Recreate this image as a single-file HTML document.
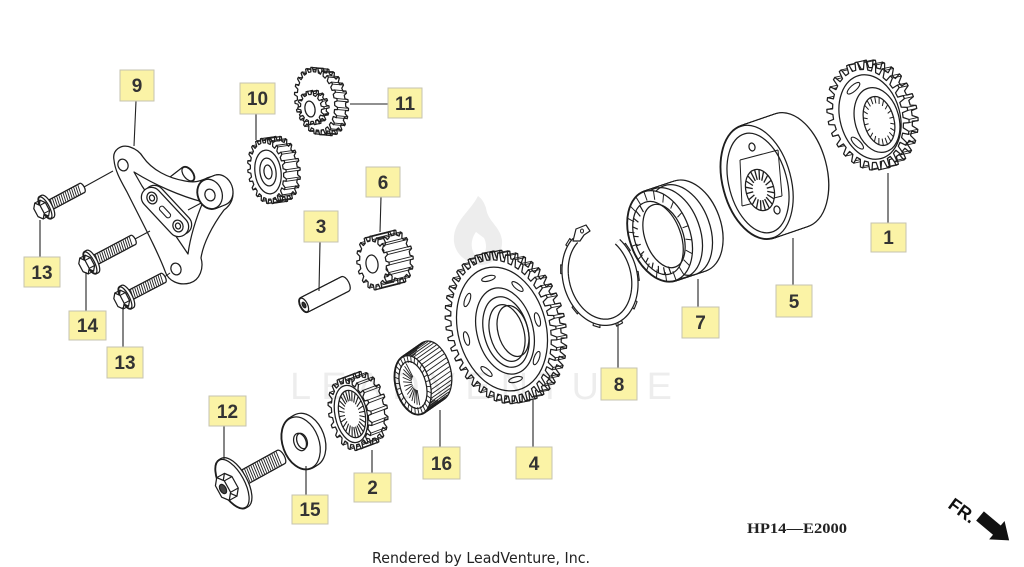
<!DOCTYPE html>
<html><head><meta charset="utf-8"><title>diagram</title>
<style>
html,body{margin:0;padding:0;background:#fff;width:1024px;height:567px;overflow:hidden}
svg{display:block}
.lb rect{fill:#fbf3a6;stroke:#c6c3b0;stroke-width:1}
.lb text{font-family:"Liberation Sans",sans-serif;font-weight:bold;font-size:19px;fill:#333;text-anchor:middle}
.ld line{stroke:#222;stroke-width:1.1}
</style></head><body>
<svg id="svg" width="1024" height="567" viewBox="0 0 1024 567" xmlns="http://www.w3.org/2000/svg">
<rect width="1024" height="567" fill="#fff"/>
<g id="art"></g>
<g id="wm" fill="#000" fill-opacity="0.07">
 <path d="M478,196 C470,212 452,222 454,242 C456,256 468,264 482,265 C494,264 503,254 502,240 C500,226 488,222 486,208 C484,202 482,199 478,196 Z M476,232 C470,240 470,252 478,258 C486,256 488,246 484,238 Z" fill-rule="evenodd"/>
 <text x="290" y="399" font-family="Liberation Sans, sans-serif" font-size="38" textLength="382" lengthAdjust="spacing">LEADVENTURE</text>
</g>
<g class="ld">
 <line x1="136" y1="101" x2="134" y2="146"/>
 <line x1="256" y1="114" x2="256" y2="140"/>
 <line x1="350" y1="104" x2="388" y2="104"/>
 <line x1="381" y1="197" x2="380" y2="232"/>
 <line x1="320" y1="242" x2="319" y2="291"/>
 <line x1="40" y1="257" x2="40" y2="220"/>
 <line x1="86" y1="311" x2="86" y2="272"/>
 <line x1="123" y1="347" x2="123" y2="307"/>
 <line x1="888" y1="223" x2="888" y2="173"/>
 <line x1="793" y1="285" x2="793" y2="238"/>
 <line x1="698" y1="307" x2="698" y2="279"/>
 <line x1="618" y1="368" x2="618" y2="322"/>
 <line x1="224" y1="426" x2="224" y2="459"/>
 <line x1="306" y1="495" x2="306" y2="466"/>
 <line x1="372" y1="473" x2="372" y2="450"/>
 <line x1="440" y1="447" x2="440" y2="410"/>
 <line x1="533" y1="447" x2="533" y2="400"/>
</g>
<g class="lb">
 <rect x="120" y="70" width="34" height="31"/><text x="137" y="92">9</text>
 <rect x="240" y="83" width="35" height="31"/><text x="257.5" y="105">10</text>
 <rect x="388" y="88" width="34" height="30"/><text x="405" y="110">11</text>
 <rect x="366" y="167" width="34" height="30"/><text x="383" y="189">6</text>
 <rect x="304" y="211" width="34" height="31"/><text x="321" y="233">3</text>
 <rect x="24" y="257" width="36" height="30"/><text x="42" y="279">13</text>
 <rect x="69" y="311" width="37" height="29"/><text x="87.5" y="332">14</text>
 <rect x="107" y="347" width="36" height="31"/><text x="125" y="369">13</text>
 <rect x="871" y="223" width="35" height="29"/><text x="888.5" y="244">1</text>
 <rect x="776" y="285" width="36" height="32"/><text x="794" y="308">5</text>
 <rect x="682" y="307" width="37" height="31"/><text x="700.5" y="329">7</text>
 <rect x="601" y="368" width="36" height="32"/><text x="619" y="391">8</text>
 <rect x="209" y="396" width="37" height="30"/><text x="227.5" y="418">12</text>
 <rect x="292" y="495" width="36" height="29"/><text x="310" y="516">15</text>
 <rect x="354" y="473" width="37" height="29"/><text x="372.5" y="494">2</text>
 <rect x="423" y="447" width="37" height="32"/><text x="441.5" y="470">16</text>
 <rect x="516" y="447" width="36" height="32"/><text x="534" y="470">4</text>
</g>
<text x="747" y="533" font-family="Liberation Serif, serif" font-size="15" font-weight="bold" fill="#222" textLength="100" lengthAdjust="spacingAndGlyphs">HP14—E2000</text>
<text x="372" y="563" font-family="DejaVu Sans, sans-serif" font-size="15" fill="#222" textLength="218" lengthAdjust="spacingAndGlyphs">Rendered by LeadVenture, Inc.</text>
<text x="0" y="0" transform="translate(947,507) rotate(36)" font-family="Liberation Sans, sans-serif" font-size="18" font-weight="bold" fill="#111">FR.</text>
<polygon transform="translate(980,516) rotate(40)" points="0,-6 22,-6 22,-12 38,0 22,12 22,6 0,6" fill="#111"/>
</svg>
<script>
(function(){
var NS='http://www.w3.org/2000/svg';
var art=document.getElementById('art');
var K='#1e1e1e';
function E(tag,a,p){var e=document.createElementNS(NS,tag);for(var k in a)e.setAttribute(k,a[k]);(p||art).appendChild(e);return e;}
function T(cx,cy,rx,ry,rot){var r=rot*Math.PI/180,c=Math.cos(r),s=Math.sin(r);return function(x,y){return [cx+x*rx*c-y*ry*s, cy+x*rx*s+y*ry*c];};}
function ell(cx,cy,rx,ry,rot,fill,sw,stroke){return E('ellipse',{cx:cx,cy:cy,rx:rx,ry:ry,transform:'rotate('+rot+' '+cx+' '+cy+')',fill:fill||'none',stroke:stroke===undefined?K:stroke,'stroke-width':sw||1.25});}
function P(pts,close){return 'M'+pts.map(function(p){return p[0].toFixed(2)+','+p[1].toFixed(2);}).join('L')+(close?'Z':'');}
function poly(pts,fill,sw){return E('path',{d:P(pts,true),fill:fill||'#fff',stroke:K,'stroke-width':sw||1.25,'stroke-linejoin':'round'});}
function line(x1,y1,x2,y2,sw){return E('line',{x1:x1,y1:y1,x2:x2,y2:y2,stroke:K,'stroke-width':sw||1});}
function path(d,fill,sw){return E('path',{d:d,fill:fill||'#fff',stroke:K,'stroke-width':sw||1.25,'stroke-linejoin':'round'});}
function gearPts(cx,cy,rx,ry,rot,n,d){var f=T(cx,cy,rx,ry,rot);var prof=[[0,1-d],[0.14,1],[0.40,1],[0.54,1-d]];var pts=[];for(var i=0;i<n;i++){for(var j=0;j<prof.length;j++){var a=2*Math.PI*(i+prof[j][0])/n;var rho=prof[j][1];pts.push(f(rho*Math.cos(a),rho*Math.sin(a)));}}return pts;}
function gear(cx,cy,rx,ry,rot,n,d,dx,dy,sw){var back=gearPts(cx+dx,cy+dy,rx,ry,rot,n,d);poly(back,'#fff',sw);var front=gearPts(cx,cy,rx,ry,rot,n,d);for(var i=0;i<front.length;i++){var m=i%4;if(m==1||m==2)line(front[i][0],front[i][1],back[i][0],back[i][1],0.9);}poly(front,'#fff',sw);}
function hull(x1,y1,x2,y2,rx,ry,rot,sw){sw=sw||1.25;var dist=Math.hypot(x2-x1,y2-y1);var n=Math.max(1,Math.ceil(dist/0.9));var ps=[];for(var i=0;i<=n;i++){ps.push([x1+(x2-x1)*i/n,y1+(y2-y1)*i/n]);}
ps.forEach(function(p){ell(p[0],p[1],rx,ry,rot,'none',sw*2);});
ps.forEach(function(p){ell(p[0],p[1],rx,ry,rot,'#fff',1,'none');});}
function ticks(cx,cy,rx,ry,rot,r1,r2,n,a0,a1,sw){var f=T(cx,cy,rx,ry,rot);for(var i=0;i<n;i++){var a=(a0+(a1-a0)*i/n)*Math.PI/180;var p=f(r1*Math.cos(a),r1*Math.sin(a)),q=f(r2*Math.cos(a),r2*Math.sin(a));line(p[0],p[1],q[0],q[1],sw||0.8);}}
function slots(cx,cy,rx,ry,rot,rho,angles,len,wid){var f=T(cx,cy,rx,ry,rot);angles.forEach(function(deg){var a=deg*Math.PI/180;var p=f(rho*Math.cos(a),rho*Math.sin(a));var p1=f(rho*Math.cos(a+.05),rho*Math.sin(a+.05)),p0=f(rho*Math.cos(a-.05),rho*Math.sin(a-.05));var ang=Math.atan2(p1[1]-p0[1],p1[0]-p0[0])*180/Math.PI;ell(p[0],p[1],len,wid,ang,'#fff',1.1);});}
function arcPts(cx,cy,rx,ry,rot,a0,a1,n){var f=T(cx,cy,rx,ry,rot);var pts=[];for(var i=0;i<=n;i++){var a=(a0+(a1-a0)*i/n)*Math.PI/180;pts.push(f(Math.cos(a),Math.sin(a)));}return pts;}
function bolt(fx,fy,ex,ey,hr,fr,frx,tr){
 var dx=ex-fx,dy=ey-fy,L=Math.hypot(dx,dy),ux=dx/L,uy=dy/L,nx=-uy,ny=ux,phi=Math.atan2(dy,dx)*180/Math.PI;
 var hl=hr*0.9;
 var flx=fx+ux*hl,fly=fy+uy*hl;
 hull(flx,fly,ex,ey,tr*0.4,tr,phi);
 for(var t=4;t<L-hl-1;t+=2.4){var px=flx+ux*t,py=fly+uy*t;line(px+nx*tr-ux*0.8,py+ny*tr-uy*0.8,px-nx*tr+ux*0.8,py-ny*tr+uy*0.8,0.9);}
 hull(flx-ux*1,fly-uy*1,flx+ux*1.5,fly+uy*1.5,frx,fr,phi);
 ell(flx-ux*1,fly-uy*1,frx,fr,phi,'#fff');
 var hb=T(fx+ux*hl*0.75,fy+uy*hl*0.75,hr*0.45,hr,phi), hf=T(fx,fy,hr*0.45,hr,phi);
 var B=[],F=[];for(var i=0;i<6;i++){var a=(i*60+30)*Math.PI/180;B.push(hb(Math.cos(a),Math.sin(a)));F.push(hf(Math.cos(a),Math.sin(a)));}
 poly(B); for(i=0;i<6;i++)line(F[i][0],F[i][1],B[i][0],B[i][1],1.1); poly(F);
 return phi;
}

/* Gear 11 */
gear(316,101,21,34,-10,24,.13,11,1);
gear(311,108,13,17,-10,14,.2,5,-1);
ell(310,109,5,8,-10,'#fff');
/* Gear 10 */
gear(267,171,19,33,-8,22,.14,14,-2);
ell(268,172,13,22,-8,'#fff'); ell(268,172,8,14,-8,'#fff'); ell(268,172,4,7,-8,'#fff');
/* Gear 6 */
gear(373,263,16,27,-8,16,.18,24,-6);
ell(372,264,6,9,-8,'#fff');
/* Pin 3 */
hull(304,305,345,284,3.5,7.5,-27); ell(304,305,3.5,7.5,-27,'#fff'); ell(304,305,1.5,3,-27,'#333');

/* Bracket 9 */
hull(170,188,188,174,4.5,8,-38); ell(188,174,4.5,8,-38,'#fff');
path('M114,160 C112,150 121,144 130,147 C136,149 140,152 143,157 C152,170 168,178 185,181 C195,183 200,181 205,179 C214,174 228,177 232,187 C235,197 231,205 224,210 C212,226 203,244 201,258 C204,268 200,280 190,283 C179,286 168,281 165,271 C157,250 142,222 127,192 C121,181 115,171 114,160 Z');
path('M134,172 C155,185 180,196 203,202 C196,218 190,238 188,254 C176,236 158,210 142,186 Z');
line(135,239,150,231); line(188,210,203,202); line(163,278,170,273); line(84,187,113,171);
hull(210,194,220,190,12,15,-20); ell(210,194,12,15,-20,'#fff'); ell(210,195,5,6,-20,'#fff');
E('rect',{x:-30,y:-10,width:60,height:20,rx:10,transform:'translate(168,210) rotate(47)',fill:'#fff',stroke:K,'stroke-width':1.25});
E('rect',{x:-30,y:-10,width:60,height:20,rx:10,transform:'translate(165,212) rotate(47)',fill:'#fff',stroke:K,'stroke-width':1.25});
ell(152,198,5,6,-20,'#fff'); ell(152,198,2.5,3,-20,'#fff');
ell(178,226,5,6,-20,'#fff'); ell(178,226,2.5,3,-20,'#fff');
E('rect',{x:-7,y:-2.5,width:14,height:5,rx:2.5,transform:'translate(165,212) rotate(47)',fill:'#fff',stroke:K,'stroke-width':1.1});
ell(123,165,5,6,-20,'#fff');
ell(176,269,5,6,-20,'#fff');

/* Bolts 13, 14, 13 */
bolt(39,211,82,188,9,12,4,4.5);
bolt(84,266,133,240,9,12,4,4.5);
bolt(119,301,163,278,9,12,4,4.5);

/* Bolt 12 */
var ph=bolt(223,489,281,457,13,27,12,7);
ell(223,489,3,5,ph,'#444');
/* Washer 15 */
hull(301,443,306,440,18,27,-20); ell(301,443,18,27,-20,'#fff'); ell(300,442,6,9,-20,'#fff'); ell(302,441,5,8,-20);
/* Gear 2 */
gear(350,414,21,37,-12,20,.15,16,-6);
ell(351,414,16,29,-12); ell(352,414,13,24,-12,'#fff'); ticks(352,414,13,24,-12,.55,1,26,0,360,1.1);
/* Needle bearing 16 */
hull(413,385,433,371,17,30,-15);
(function(){var fF=T(413,385,17,30,-15),fB=T(433,371,17,30,-15);for(var d=0;d<360;d+=9){var a=d*Math.PI/180;var p=fF(Math.cos(a),Math.sin(a)),q=fB(Math.cos(a),Math.sin(a));line(p[0],p[1],q[0],q[1],0.9);}})();
ell(413,385,17,30,-15,'#fff'); ell(413,385,13,24,-15,'#fff'); ticks(413,385,17,30,-15,.76,1,30,0,360,0.9);
ticks(416,383,13,24,-15,.3,.95,14,100,260,0.9);
/* Gear 4 */
gear(501,328,54,77,-15,44,.1,10,-2);
ell(502,329,44,63,-15);
slots(502,329,54,77,-15,.68,[0,45,90,135,180,225,270,315],7,2.6);
ell(505,331,28,44,-15,'#fff'); ell(506,332,22,36,-15); ell(507,333,17,29,-15,'#fff');
ell(513,331,15,26,-15);
/* Snap ring 8 */
(function(){var cx=600,cy=277,rx=34,ry=46,rot=-15;var f=T(cx,cy,rx,ry,rot);
[150,115,80,45,10,-25,200,235].forEach(function(deg){var a0=(deg-5)*Math.PI/180,a1=(deg+5)*Math.PI/180;poly([f(1.0*Math.cos(a0),1.0*Math.sin(a0)),f(1.13*Math.cos(a0),1.13*Math.sin(a0)),f(1.13*Math.cos(a1),1.13*Math.sin(a1)),f(1.0*Math.cos(a1),1.0*Math.sin(a1))],'#fff',1.1);});
var pts=arcPts(cx,cy,rx,ry,rot,-115,-400,80);
E('path',{d:P(pts,false),fill:'none',stroke:K,'stroke-width':7.5});
E('path',{d:P(pts,false),fill:'none',stroke:'#fff','stroke-width':5});
poly([[573,241],[576,229],[586,225],[590,231],[584,235],[580,241]],'#fff',1.2);
ell(582,231,1.5,2,0,'#fff',1);
})();
/* One-way clutch 7 */
hull(660,236,690,226,30,47,-20);
ell(670,233,30,47,-20); ell(680,230,30,47,-20);
ell(660,236,30,47,-20,'#fff'); ell(658,238,23,38,-20,'#fff'); ticks(660,236,30,47,-20,.8,1,20,0,360,1);
ell(664,236,19,33,-20); ticks(658,238,23,38,-20,.8,1,12,90,270,1.2);
/* Housing 5 */
hull(757,182,792,170,34,58,-15);
ell(757,182,34,58,-15,'#fff'); ell(758,183,29,51,-15,'#fff');
line(740,160,778,150); line(742,206,782,196); line(740,160,742,206); line(778,150,782,196);
ell(760,190,14,21,-15,'#fff'); ticks(760,190,14,21,-15,.5,1,20,0,360,1.3);
ell(752,147,3,4,-15,'#fff'); ell(777,210,3,4,-15,'#fff');
/* Gear 1 */
gear(868,116,40,55,-15,28,.14,9,-2);
ell(870,117,30,43,-15);
slots(870,117,40,55,-15,.62,[-110,20,140],8,3);
ell(877,120,22,33,-15,'#fff'); ell(879,121,15,25,-15,'#fff'); ticks(879,121,15,25,-15,.72,1,22,0,360,1);
})();
</script>
</body></html>
